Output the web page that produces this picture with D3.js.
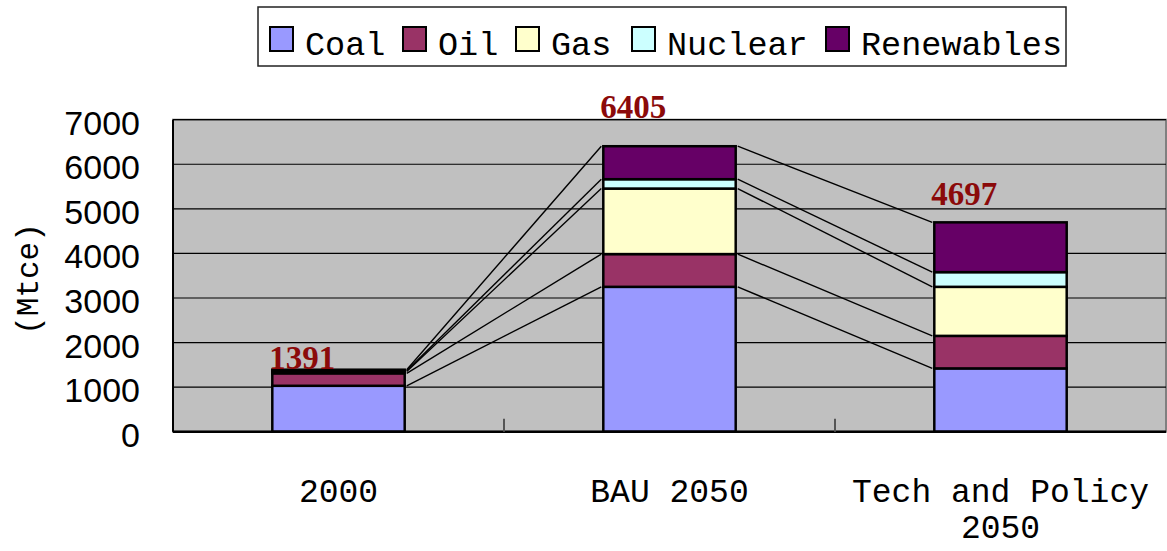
<!DOCTYPE html>
<html>
<head>
<meta charset="utf-8">
<script src="https://cdn.jsdelivr.net/npm/d3@7"></script>
<style>
  body { margin: 0; background: #fff; }
  text { font-family: 'Liberation Mono', 'DejaVu Sans Mono', monospace; }
</style>
</head>
<body>
<svg id="chart"></svg>
<script>
const categories = [['2000'], ['BAU 2050'], ['Tech and Policy', '2050']]
const seriesNames = ['Coal', 'Oil', 'Gas', 'Nuclear', 'Renewables']
const coal = [1030, 3250, 1420]
const oil = [280, 735, 730]
const gas = [40, 1470, 1100]
const nuclear = [20, 210, 330]
const renewables = [21, 740, 1117]
const totals = [1391, 6405, 4697]
const yTicks = [0, 1000, 2000, 3000, 4000, 5000, 6000, 7000]
const colors = ['#9999ff', '#993366', '#ffffcc', '#ccffff', '#660066']

const width = 1167, height = 551
const margin = { top: 119.7, left: 173, bottom: 119.3, right: 1 }
const iwidth = width - margin.left - margin.right
const iheight = height - margin.top - margin.bottom
// lift of each total label above its bar (labels were placed by hand)
const labelLift = [1, 28, 17]

const svg = d3.select('#chart').attr('width', width).attr('height', height)

const keys = categories.map((c) => c.join(' '))
const table = keys.map((k, i) => ({
    key: k, Coal: coal[i], Oil: oil[i], Gas: gas[i], Nuclear: nuclear[i], Renewables: renewables[i]
}))
const stacked = d3.stack().keys(seriesNames)(table)

const x = d3.scaleBand().domain(keys).range([0, iwidth]).paddingInner(0.6).paddingOuter(0.3)
const y = d3.scaleLinear().domain([0, 7000]).range([iheight, 0])

const g = svg.append('g').attr('transform', `translate(${margin.left},${margin.top})`)

g.append('rect')
    .attr('width', iwidth).attr('height', iheight)
    .style('fill', '#c0c0c0').style('stroke', '#808080').style('stroke-width', 2)

g.selectAll('.grid').data(yTicks.slice(1))
    .enter().append('line')
    .attr('x1', 0).attr('x2', iwidth)
    .attr('y1', (d) => y(d)).attr('y2', (d) => y(d))
    .style('stroke', '#000').style('stroke-width', 1.2)

// series lines between neighbouring bars
for (let s = 0; s < stacked.length; s++) {
    for (let i = 0; i < keys.length - 1; i++) {
        g.append('line')
            .attr('x1', x(keys[i]) + x.bandwidth() + 2)
            .attr('y1', y(stacked[s][i][1]))
            .attr('x2', x(keys[i + 1]) - 2)
            .attr('y2', y(stacked[s][i + 1][1]))
            .style('stroke', '#000').style('stroke-width', 1.4)
    }
}

g.selectAll('.layer').data(stacked)
    .enter().append('g')
    .style('fill', (d, i) => colors[i])
    .selectAll('rect').data((d) => d)
    .enter().append('rect')
    .attr('x', (d) => x(d.data.key))
    .attr('y', (d) => y(d[1]))
    .attr('height', (d) => y(d[0]) - y(d[1]))
    .attr('width', x.bandwidth())
    .style('stroke', '#000').style('stroke-width', 2.5)

// axes
g.append('line').attr('x1', 0).attr('x2', 0).attr('y1', 0).attr('y2', iheight)
    .style('stroke', '#000').style('stroke-width', 2)
g.append('line').attr('x1', 0).attr('x2', iwidth).attr('y1', iheight).attr('y2', iheight)
    .style('stroke', '#000').style('stroke-width', 2.5)
g.selectAll('.xtick').data(keys.slice(1))
    .enter().append('line')
    .attr('x1', (d) => x(d) - x.step() * x.paddingInner() / 2)
    .attr('x2', (d) => x(d) - x.step() * x.paddingInner() / 2)
    .attr('y1', iheight).attr('y2', iheight - 13)
    .style('stroke', '#555').style('stroke-width', 2)

g.selectAll('.ylab').data(yTicks)
    .enter().append('text')
    .attr('x', -33).attr('y', (d) => y(d) + 6)
    .attr('text-anchor', 'end').attr('dominant-baseline', 'middle')
    .style('font-family', "'Liberation Sans', Arial, sans-serif")
    .style('font-size', '34px')
    .text((d) => d)

svg.append('text')
    .attr('transform', 'translate(38,279) rotate(-90)')
    .attr('text-anchor', 'middle')
    .style('font-size', '31px')
    .text('(Mtce)')

categories.forEach((lines, i) => {
    const t = g.append('text')
        .attr('x', x(keys[i]) + x.bandwidth() / 2)
        .attr('y', iheight + 70)
        .attr('text-anchor', 'middle')
        .style('font-size', '33px')
    lines.forEach((l, j) => {
        t.append('tspan').attr('x', x(keys[i]) + x.bandwidth() / 2)
            .attr('dy', j === 0 ? 0 : 36).text(l)
    })
})

g.selectAll('.total').data(totals)
    .enter().append('text')
    .attr('x', (d, i) => x(keys[i]) - 3)
    .attr('y', (d, i) => y(d) - labelLift[i])
    .style('font-family', "'Liberation Serif', 'Times New Roman', serif")
    .style('font-weight', 'bold')
    .style('font-size', '33px')
    .style('fill', '#8b0a0a')
    .text((d) => d)

// legend
const legend = svg.append('g').attr('transform', 'translate(258,7)')
legend.append('rect').attr('width', 808).attr('height', 59)
    .style('fill', '#fff').style('stroke', '#222').style('stroke-width', 1.5)
const legendX = [12, 145, 258, 374, 568]
seriesNames.forEach((name, i) => {
    legend.append('rect')
        .attr('x', legendX[i]).attr('y', 20).attr('width', 23).attr('height', 24)
        .style('fill', colors[i]).style('stroke', '#000').style('stroke-width', 2)
    legend.append('text')
        .attr('x', legendX[i] + 35).attr('y', 48)
        .style('font-size', '33.5px')
        .text(name)
})
</script>
</body>
</html>
